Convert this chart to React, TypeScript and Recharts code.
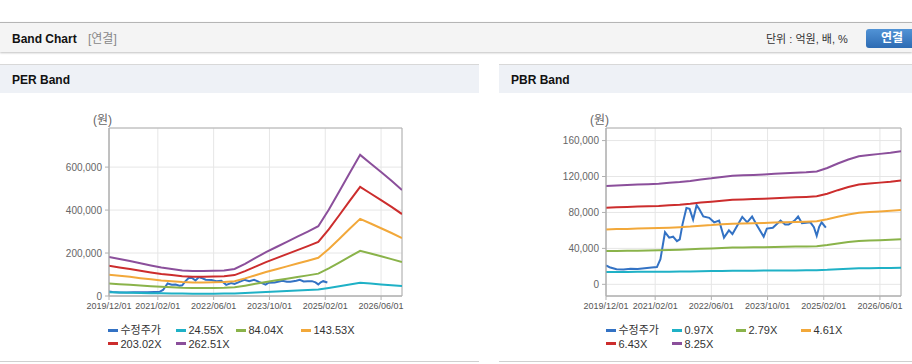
import { CartesianGrid, Line, LineChart, ReferenceArea, XAxis, YAxis } from "recharts";

// x axis is "months since 2019/12"
const xTickMonths = [0, 14, 30, 46, 62, 78];
const xTickLabels = ["2019/12/01", "2021/02/01", "2022/06/01", "2023/10/01", "2025/02/01", "2026/06/01"];

// 수정주가 (adjusted price)
const priceMonths = [
    0, 1, 3, 5, 7, 9, 11, 13, 14.5, 15.5, 16.8, 18, 19.1, 20.2, 21, 21.8, 22.9, 23.8, 24.8, 25.8, 26.5, 27.7, 29.4,
    30.8, 32.2, 33.6, 35, 36, 37.4, 38.8, 40.2, 41.6, 43, 44.9, 45.8, 47.5, 49.7, 51, 52, 53.7, 54.7, 55.8, 57, 58.2,
    59.2, 60, 60.7, 61.4, 62.6,
];
const priceValues = [
    21000, 19000, 16800, 16500, 17200, 17000, 17800, 18700, 19200, 28000, 58000, 52000, 53000, 48000, 50000, 67000,
    85000, 84000, 72000, 88000, 84000, 75500, 74000, 69000, 71000, 52000, 60000, 56000, 65500, 75000, 69000, 75500,
    65500, 53000, 62000, 63000, 71000, 66500, 66500, 71000, 75500, 68000, 68500, 69000, 63500, 54000, 64000, 69000,
    63000,
];

const bandMonths = [0, 3, 6, 9, 12, 15, 18, 21, 24, 27, 30, 33, 36, 39, 42, 45, 48, 51, 54, 57, 60, 63, 66, 69, 72, 75, 78, 81, 84];

// PER bands
const per24 = [17000, 16100, 15200, 14200, 13300, 12400, 11800, 11100, 10800, 10800, 11000, 11100, 11800, 14000, 16600, 19100, 21300, 23600, 25800, 28100, 30400, 37500, 45500, 53500, 61400, 57700, 54000, 50100, 46100];
const per84 = [58300, 55100, 52200, 48700, 45500, 42600, 40300, 38100, 37100, 37100, 37800, 38100, 40300, 48000, 56700, 65300, 73000, 80700, 88400, 96000, 104000, 128400, 155600, 183100, 210300, 197500, 184700, 171600, 157800];
const per143 = [99500, 94000, 89100, 83100, 77600, 72700, 68900, 65100, 63400, 63400, 64500, 65100, 68900, 82000, 96800, 111500, 124700, 137800, 150900, 164000, 177700, 219300, 265700, 312700, 359200, 337400, 315500, 293100, 269600];
const per203 = [140800, 133000, 126100, 117600, 109800, 102900, 97400, 92000, 89700, 89700, 91300, 92000, 97400, 116000, 136900, 157800, 176300, 194900, 213500, 232000, 251300, 310100, 375900, 442400, 508100, 477200, 446200, 414500, 381300];
const per262 = [182000, 172000, 163000, 152000, 142000, 133000, 126000, 119000, 116000, 116000, 118000, 119000, 126000, 150000, 177000, 204000, 228000, 252000, 276000, 300000, 325000, 401000, 486000, 572000, 657000, 617000, 577000, 536000, 493000];

// PBR bands
const pbr097 = [13700, 13700, 13800, 13900, 13900, 14000, 14100, 14200, 14300, 14500, 14700, 14900, 15100, 15200, 15200, 15300, 15400, 15400, 15500, 15600, 15700, 16100, 16800, 17300, 17800, 18000, 18200, 18300, 18500];
const pbr279 = [37000, 37200, 37400, 37500, 37700, 37900, 38200, 38500, 38900, 39500, 39900, 40400, 40900, 41000, 41200, 41400, 41600, 41800, 42000, 42200, 42500, 43800, 45500, 47000, 48200, 48700, 49100, 49500, 50100];
const pbr461 = [61100, 61500, 61700, 62000, 62300, 62600, 63100, 63600, 64300, 65300, 65900, 66800, 67500, 67800, 68100, 68300, 68700, 69100, 69400, 69700, 70200, 72400, 75200, 77700, 79600, 80500, 81100, 81900, 82800];
const pbr643 = [85300, 85700, 86100, 86500, 86900, 87300, 88100, 88700, 89600, 91000, 92000, 93100, 94200, 94500, 94900, 95300, 95900, 96300, 96800, 97300, 98000, 100900, 104800, 108300, 111100, 112200, 113200, 114200, 115500];
const pbr825 = [109400, 110000, 110500, 111000, 111500, 112000, 113000, 113800, 115000, 116800, 118000, 119500, 120800, 121300, 121800, 122300, 123000, 123600, 124200, 124800, 125700, 129500, 134500, 139000, 142500, 144000, 145200, 146500, 148200];

const seriesColors = ["#3372c4", "#1fb1c6", "#8ab34a", "#f2a83a", "#cc2d2d", "#8b4f9b"];
const perNames = ["수정주가", "24.55X", "84.04X", "143.53X", "203.02X", "262.51X"];
const pbrNames = ["수정주가", "0.97X", "2.79X", "4.61X", "6.43X", "8.25X"];

const perYTicks = [0, 200000, 400000, 600000];
const pbrYTicks = [0, 40000, 80000, 120000, 160000];

const FONT = '"Liberation Sans", Arial, "Noto Sans CJK KR", sans-serif';

const buildRows = (bands: number[][]) => {
    const map = new Map<number, any>();
    const row = (m: number) => {
        if (!map.has(m)) map.set(m, { month: m });
        return map.get(m);
    };
    priceMonths.forEach((m, i) => (row(m).s0 = priceValues[i]));
    bandMonths.forEach((m, i) => bands.forEach((b, k) => (row(m)["s" + (k + 1)] = b[i])));
    return [...map.values()].sort((a, b) => a.month - b.month);
};

const perRows = buildRows([per24, per84, per143, per203, per262]);
const pbrRows = buildRows([pbr097, pbr279, pbr461, pbr643, pbr825]);

type BandProps = {
    left: number;
    data: any[];
    names: string[];
    width: number;
    yAxisWidth: number;
    marginRight: number;
    yDomain: [number, number];
    yTicks: number[];
    legendCols: number[];
};

const BandChart = ({ left, data, names, width, yAxisWidth, marginRight, yDomain, yTicks, legendCols }: BandProps) => {
    const plotLeft = left + yAxisWidth;
    return (
        <>
            <div style={{ position: "absolute", left: plotLeft - 16, top: 110, fontSize: 12, color: "#666" }}>(원)</div>
            <div style={{ position: "absolute", left, top: 100 }}>
                <LineChart width={width} height={225} data={data} margin={{ top: 28, right: marginRight, bottom: 0, left: 0 }}>
                    <CartesianGrid stroke="#e6e6e6" />
                    <ReferenceArea x1={0} x2={84} y1={yDomain[0]} y2={yDomain[1]} fill="none" stroke="#b0b0b0" />
                    <XAxis
                        dataKey="month"
                        type="number"
                        domain={[0, 84]}
                        allowDataOverflow
                        ticks={xTickMonths}
                        interval={0}
                        tickFormatter={(m: number) => xTickLabels[xTickMonths.indexOf(m)]}
                        tick={{ fontSize: 9, fill: "#555" }}
                        axisLine={{ stroke: "#b0b0b0" }}
                        tickLine={{ stroke: "#b0b0b0" }}
                        tickSize={4}
                        tickMargin={3}
                        height={29}
                    />
                    <YAxis
                        type="number"
                        domain={yDomain}
                        allowDataOverflow
                        ticks={yTicks}
                        interval={0}
                        width={yAxisWidth}
                        tickFormatter={(v: number) => v.toLocaleString("en-US")}
                        tick={{ fontSize: 10, fill: "#666" }}
                        axisLine={{ stroke: "#b0b0b0" }}
                        tickLine={{ stroke: "#b0b0b0" }}
                        tickSize={4}
                        tickMargin={3}
                    />
                    {names.map((n, i) => (
                        <Line
                            key={n}
                            type="linear"
                            dataKey={"s" + i}
                            name={n}
                            stroke={seriesColors[i]}
                            strokeWidth={2}
                            dot={false}
                            activeDot={false}
                            connectNulls
                            isAnimationActive={false}
                        />
                    ))}
                </LineChart>
            </div>
            {names.map((n, i) => {
                const x = plotLeft + legendCols[i % 4];
                const cy = i < 4 ? 330 : 343.5;
                return (
                    <div key={n}>
                        <div
                            style={{
                                position: "absolute",
                                left: x,
                                top: cy - 1.5,
                                width: 10,
                                height: 3,
                                background: seriesColors[i],
                            }}
                        />
                        <div
                            style={{
                                position: "absolute",
                                left: x + 12.5,
                                top: cy - 7,
                                fontSize: 11,
                                lineHeight: "14px",
                                color: "#333",
                                whiteSpace: "nowrap",
                            }}
                        >
                            {n}
                        </div>
                    </div>
                );
            })}
        </>
    );
};

export default function App() {
    return (
        <div style={{ position: "relative", width: 912, height: 364, overflow: "hidden", background: "#fff", fontFamily: FONT }}>
            <style>{"body{margin:0}"}</style>
            {/* top bar */}
            <div
                style={{
                    position: "absolute",
                    left: 0,
                    top: 22,
                    width: 912,
                    height: 29,
                    background: "#f4f4f4",
                    borderTop: "1px solid #b5b5b5",
                    boxShadow: "0 1px 2px rgba(0,0,0,0.25)",
                }}
            />
            <div style={{ position: "absolute", left: 12, top: 31, fontSize: 12, fontWeight: "bold", color: "#111", lineHeight: "16px" }}>
                Band Chart
            </div>
            <div style={{ position: "absolute", left: 88, top: 31, fontSize: 12, color: "#888", lineHeight: "16px" }}>[연결]</div>
            <div style={{ position: "absolute", left: 766, top: 31, fontSize: 11, color: "#333", lineHeight: "16px", whiteSpace: "nowrap" }}>
                단위 : 억원, 배, %
            </div>
            <div
                style={{
                    position: "absolute",
                    left: 866,
                    top: 29,
                    width: 52,
                    height: 19,
                    borderRadius: 3,
                    background: "linear-gradient(#5193d6, #2d6bb3)",
                    color: "#fff",
                    fontSize: 12,
                    fontWeight: "bold",
                    lineHeight: "19px",
                    textAlign: "center",
                }}
            >
                연결
            </div>

            {/* panel headers */}
            <div style={{ position: "absolute", left: 0, top: 64, width: 479, height: 28, background: "#eef1f6", borderTop: "1px solid #d8d8d8" }} />
            <div style={{ position: "absolute", left: 499, top: 64, width: 413, height: 28, background: "#eef1f6", borderTop: "1px solid #d8d8d8" }} />
            <div style={{ position: "absolute", left: 12, top: 72, fontSize: 12, fontWeight: "bold", color: "#111", lineHeight: "16px" }}>PER Band</div>
            <div style={{ position: "absolute", left: 511, top: 72, fontSize: 12, fontWeight: "bold", color: "#111", lineHeight: "16px" }}>PBR Band</div>
            <div style={{ position: "absolute", left: 0, top: 361, width: 479, height: 1, background: "#d0d0d0" }} />
            <div style={{ position: "absolute", left: 499, top: 361, width: 413, height: 1, background: "#d0d0d0" }} />

            <BandChart
                left={0}
                data={perRows}
                names={perNames}
                width={420}
                yAxisWidth={109}
                marginRight={18}
                yDomain={[0, 782000]}
                yTicks={perYTicks}
                legendCols={[-1, 67, 127, 192]}
            />
            <BandChart
                left={500}
                data={pbrRows}
                names={pbrNames}
                width={412}
                yAxisWidth={106}
                marginRight={11}
                yDomain={[-13000, 174000]}
                yTicks={pbrYTicks}
                legendCols={[0, 66, 130, 195]}
            />
        </div>
    );
}
